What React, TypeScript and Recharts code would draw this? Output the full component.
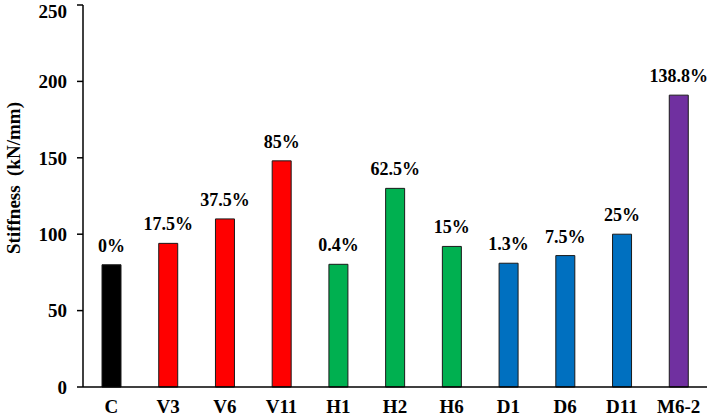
import React from 'react';
import { BarChart, Bar, XAxis, YAxis, Cell, LabelList } from 'recharts';

const categories = ['C', 'V3', 'V6', 'V11', 'H1', 'H2', 'H6', 'D1', 'D6', 'D11', 'M6-2'];
const stiffness = [80, 94, 110, 148, 80.3, 130, 92, 81, 86, 100, 191];
const percentLabels = ['0%', '17.5%', '37.5%', '85%', '0.4%', '62.5%', '15%', '1.3%', '7.5%', '25%', '138.8%'];
const barColors = ['#000000', '#FF0000', '#FF0000', '#FF0000', '#00B050', '#00B050', '#00B050', '#0070C0', '#0070C0', '#0070C0', '#7030A0'];
const yTicks = [0, 50, 100, 150, 200, 250];

const data = categories.map((name, i) => ({ name, value: stiffness[i], pct: percentLabels[i] }));

const FONT = '"Liberation Serif", "Times New Roman", serif';

const YLabel = () => (
  <text
    x={13}
    y={178}
    transform="rotate(-90 13 178)"
    textAnchor="middle"
    dominantBaseline="central"
    fontFamily={FONT}
    fontWeight="bold"
    fontSize={19}
    fill="#000"
  >
    {'Stiffness\u00A0 (kN/mm)'}
  </text>
);

export default function App() {
  return (
    <div style={{ position: 'absolute', left: 0, top: 0, background: '#fff' }}>
      <BarChart
        width={709}
        height={416}
        data={data}
        margin={{ top: 5, right: 2, left: 0, bottom: 0 }}
        barSize={19}
      >
        <XAxis
          dataKey="name"
          height={29}
          tickLine={false}
          axisLine={{ stroke: '#000', strokeWidth: 1.5 }}
          tickMargin={7}
          tick={{ fontFamily: FONT, fontWeight: 'bold', fontSize: 19, fill: '#000' }}
          interval={0}
        />
        <XAxis
          xAxisId="top"
          dataKey="name"
          orientation="top"
          height={0}
          tick={false}
          tickLine={false}
          axisLine={{ stroke: '#000', strokeWidth: 1.5 }}
        />
        <YAxis
          width={83}
          domain={[0, 250]}
          ticks={yTicks}
          tickSize={6}
          tickMargin={10}
          tickLine={{ stroke: '#000', strokeWidth: 1.5 }}
          axisLine={{ stroke: '#000', strokeWidth: 1.5 }}
          tick={{ fontFamily: FONT, fontWeight: 'bold', fontSize: 19, fill: '#000' }}
          label={{ content: () => <YLabel /> }}
        />
        <YAxis
          yAxisId="right"
          orientation="right"
          width={0}
          domain={[0, 250]}
          tick={false}
          tickLine={false}
          axisLine={{ stroke: '#000', strokeWidth: 1.5 }}
        />
        <Bar dataKey="value" isAnimationActive={false} stroke="#1a1a1a" strokeWidth={1}>
          {data.map((d, i) => (
            <Cell key={d.name} fill={barColors[i]} />
          ))}
          <LabelList
            dataKey="pct"
            position="top"
            offset={13}
            style={{ fontFamily: FONT, fontWeight: 'bold', fontSize: 18, fill: '#000' }}
          />
        </Bar>
      </BarChart>
    </div>
  );
}
